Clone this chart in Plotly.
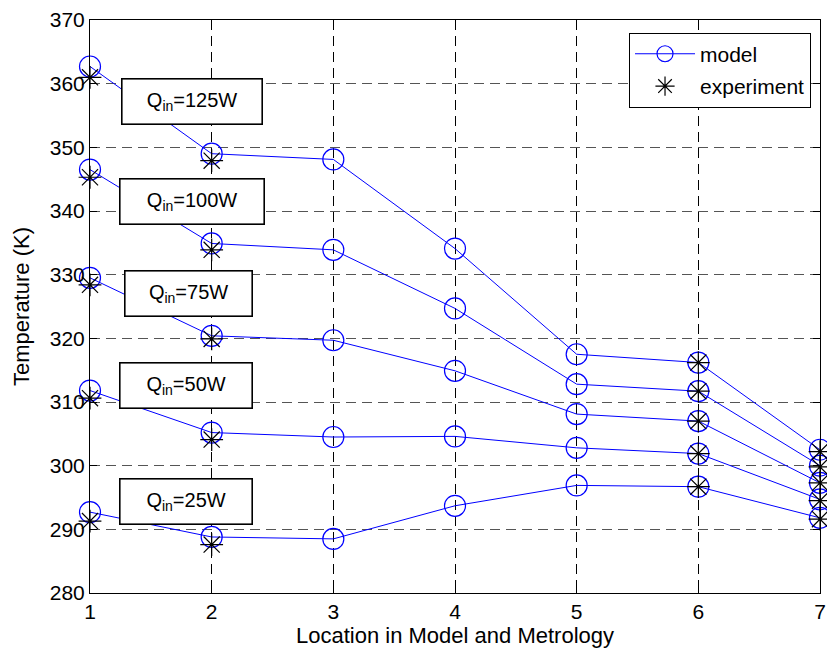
import plotly.graph_objects as go

locations = [1, 2, 3, 4, 5, 6, 7]
power_labels = ["125W", "100W", "75W", "50W", "25W"]

model_125 = [362.7, 349.0, 348.1, 334.1, 317.5, 316.2, 302.5]
model_100 = [346.5, 334.9, 333.9, 324.7, 312.8, 311.7, 300.0]
model_75 = [329.5, 320.4, 319.7, 314.9, 308.1, 307.0, 297.3]
model_50 = [311.8, 305.2, 304.5, 304.6, 302.8, 301.9, 294.7]
model_25 = [292.7, 288.8, 288.5, 293.7, 296.9, 296.7, 291.8]

exp_125 = [361.0, 347.9, None, None, None, 316.2, 302.2]
exp_100 = [345.3, 333.9, None, None, None, 311.7, 299.8]
exp_75 = [328.4, 319.9, None, None, None, 307.0, 297.3]
exp_50 = [310.6, 304.1, None, None, None, 301.9, 294.5]
exp_25 = [291.3, 287.6, None, None, None, 296.7, 291.6]

y_ticks = [280, 290, 300, 310, 320, 330, 340, 350, 360, 370]

# label box placement (layout, not data)
label_x = [1.835, 1.835, 1.81, 1.785, 1.785]
label_y = [357.2, 341.5, 327.1, 312.6, 294.4]
label_w = [139, 143, 126, 131, 131]

models = [model_125, model_100, model_75, model_50, model_25]
exps = [exp_125, exp_100, exp_75, exp_50, exp_25]

FONT = "Liberation Sans, Arial, Helvetica, sans-serif"
fig = go.Figure()

for i, m in enumerate(models):
    fig.add_trace(go.Scatter(
        x=locations, y=m, mode="lines+markers", name="model",
        legendgroup="model", showlegend=(i == 0),
        line=dict(color="#0000ff", width=1),
        marker=dict(symbol="circle-open", size=21, color="#0000ff",
                    line=dict(width=1.2, color="#0000ff")),
        cliponaxis=False, hoverinfo="skip",
    ))
for i, e in enumerate(exps):
    fig.add_trace(go.Scatter(
        x=locations, y=e, mode="markers", name="experiment",
        legendgroup="exp", showlegend=(i == 0),
        marker=dict(symbol="asterisk-open", size=19, color="black",
                    line=dict(width=1.2, color="black")),
        cliponaxis=False, hoverinfo="skip",
    ))

for i, lab in enumerate(power_labels):
    fig.add_annotation(
        x=label_x[i], y=label_y[i], xref="x", yref="y",
        text="Q<sub>in</sub>=" + lab, showarrow=False,
        font=dict(family=FONT, size=20, color="black"),
        bgcolor="white", bordercolor="black", borderwidth=1.6,
        borderpad=0, width=label_w[i], height=44, align="center",
    )

fig.update_xaxes(
    range=[1, 7], tickvals=locations, ticktext=[str(v) for v in locations],
    showgrid=True, gridcolor="black", griddash="10px,6px", gridwidth=1,
    showline=True, linecolor="black", linewidth=1, mirror="ticks",
    ticks="inside", ticklen=7, tickcolor="black",
    tickfont=dict(family=FONT, size=21, color="black"),
    title=dict(text="Location in Model and Metrology",
               font=dict(family=FONT, size=22, color="black"), standoff=4),
    zeroline=False, automargin=False,
)
fig.update_yaxes(
    range=[280, 370], tickvals=y_ticks,
    showgrid=True, gridcolor="#555555", griddash="10px,6px", gridwidth=1,
    showline=True, linecolor="black", linewidth=1, mirror="ticks",
    ticks="inside", ticklen=7, tickcolor="black",
    tickfont=dict(family=FONT, size=21, color="black"),
    title=dict(text="Temperature (K)",
               font=dict(family=FONT, size=22, color="black"), standoff=14),
    zeroline=False, automargin=False,
)

fig.update_layout(
    width=827, height=656,
    margin=dict(l=90, r=7, t=20, b=63),
    plot_bgcolor="white", paper_bgcolor="white",
    font=dict(family=FONT, color="black"),
    legend=dict(
        x=0.9877, y=0.978, xanchor="right", yanchor="top",
        bgcolor="white", bordercolor="black", borderwidth=1,
        font=dict(family=FONT, size=21, color="black"),
        itemwidth=60, tracegroupgap=2,
        entrywidth=160, entrywidthmode="pixels",
    ),
    showlegend=True,
)

fig.write_html(
    "out.html",
    config={"displayModeBar": False, "staticPlot": True},
    post_script="document.body.style.margin='0';document.body.style.padding='0';document.body.style.overflow='hidden';",
)
